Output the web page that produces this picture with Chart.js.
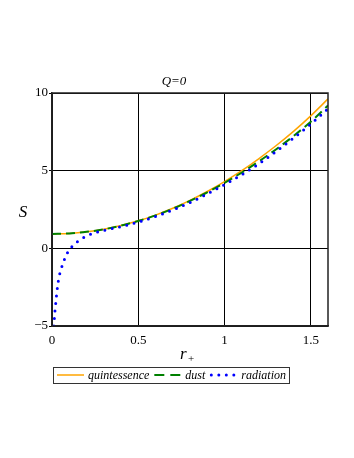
<!DOCTYPE html>
<html>
<head>
<meta charset="utf-8">
<script src="https://cdn.jsdelivr.net/npm/chart.js@4"></script>
<style>
  html, body { margin: 0; padding: 0; background: #fff; }
  canvas { display: block; }
</style>
</head>
<body>
<canvas id="chart" width="354" height="458"></canvas>
<script>
// data

const rPlus = [0, 0.1, 0.2, 0.3, 0.4, 0.5, 0.6, 0.7, 0.8, 0.9, 1.0, 1.1, 1.2, 1.3, 1.4, 1.5, 1.6];
const sQuint = [0.93, 0.96, 1.06, 1.23, 1.47, 1.77, 2.14, 2.58, 3.09, 3.66, 4.3, 5.0, 5.78, 6.62, 7.53, 8.53, 9.62];
const sDust = [0.93, 0.96, 1.06, 1.22, 1.46, 1.76, 2.12, 2.55, 3.05, 3.6, 4.22, 4.88, 5.6, 6.38, 7.23, 8.15, 9.2];

const rRad = [0.011, 0.014, 0.018, 0.023, 0.028, 0.034, 0.042, 0.055, 0.071, 0.091, 0.12, 0.16, 0.2, 0.25, 0.3,
              0.4, 0.5, 0.6, 0.7, 0.8, 0.9, 1.0, 1.1, 1.2, 1.3, 1.4, 1.5, 1.6];
const sRad = [-5, -4.47, -3.93, -3.4, -2.84, -2.31, -1.78, -1.26, -0.75, -0.26, 0.17, 0.53, 0.79, 1.0, 1.15,
              1.4, 1.69, 2.05, 2.47, 2.95, 3.5, 4.1, 4.74, 5.45, 6.25, 7.1, 8.0, 8.98];

const xTicks = [0, 0.5, 1, 1.5];
const yTicks = [-5, 0, 5, 10];

const seriesNames = ["quintessence", "dust", "radiation"];
const seriesColors = ["#FFA500", "#008000", "#0000FF"];

function toPoints(xs, ys) {
    return xs.map((x, i) => ({ x: x, y: ys[i] }));
}

const serif = '"Liberation Serif", "Times New Roman", serif';

// frame, title, axis labels and the boxed legend
const decor = {
    id: 'decor',
    afterDraw(chart) {
        const ctx = chart.ctx;
        const a = chart.chartArea;
        ctx.save();

        ctx.strokeStyle = '#222';
        ctx.lineWidth = 1.5;
        ctx.setLineDash([]);
        ctx.strokeRect(a.left, a.top, a.right - a.left, a.bottom - a.top);

        ctx.fillStyle = '#000';
        ctx.textBaseline = 'alphabetic';
        ctx.textAlign = 'center';
        ctx.font = 'italic 13px ' + serif;
        ctx.fillText('Q=0', 174, 85);

        ctx.font = 'italic 17px ' + serif;
        ctx.fillText('S', 23, 217);

        ctx.textAlign = 'left';
        ctx.font = 'italic 17px ' + serif;
        ctx.fillText('r', 180, 359);
        ctx.font = '11px ' + serif;
        ctx.fillText('+', 188, 362);

        // legend
        const top = 367, h = 16, left = 53;
        const midY = top + h / 2;
        ctx.font = 'italic 12px ' + serif;
        let x = left + 4;
        seriesNames.forEach((name, i) => {
            ctx.strokeStyle = seriesColors[i];
            if (i === 0) {
                ctx.lineWidth = 1.5;
                ctx.setLineDash([]);
                ctx.lineCap = 'butt';
            } else if (i === 1) {
                ctx.lineWidth = 2;
                ctx.setLineDash([10, 6]);
                ctx.lineCap = 'butt';
            } else {
                ctx.lineWidth = 3;
                ctx.setLineDash([0, 7.5]);
                ctx.lineCap = 'round';
            }
            ctx.beginPath();
            if (i === 2) {
                ctx.moveTo(x + 1, midY);
            } else {
                ctx.moveTo(x, midY);
            }
            ctx.lineTo(x + 27, midY);
            ctx.stroke();
            x += 31;
            ctx.fillStyle = '#000';
            ctx.fillText(name, x, midY + 4);
            x += ctx.measureText(name).width + 5;
        });
        ctx.setLineDash([]);
        ctx.lineCap = 'butt';
        ctx.strokeStyle = '#333';
        ctx.lineWidth = 1;
        ctx.strokeRect(left + 0.5, top + 0.5, x - left - 2, h);

        ctx.restore();
    }
};

let ctx = document.getElementById('chart').getContext('2d');
let chart = new Chart(ctx, {
    type: 'line',
    data: {
        datasets: [
            {
                label: seriesNames[0],
                data: toPoints(rPlus, sQuint),
                borderColor: seriesColors[0],
                borderWidth: 1.5,
                pointRadius: 0,
                cubicInterpolationMode: 'monotone',
                order: 3
            },
            {
                label: seriesNames[1],
                data: toPoints(rPlus, sDust),
                borderColor: seriesColors[1],
                borderWidth: 2,
                borderDash: [9, 5],
                pointRadius: 0,
                cubicInterpolationMode: 'monotone',
                order: 2
            },
            {
                label: seriesNames[2],
                data: toPoints(rRad, sRad),
                borderColor: seriesColors[2],
                borderWidth: 3,
                borderDash: [0, 7.5],
                borderCapStyle: 'round',
                pointRadius: 0,
                cubicInterpolationMode: 'monotone',
                order: 1
            }
        ]
    },
    options: {
        responsive: false,
        animation: false,
        devicePixelRatio: 1,
        layout: { padding: { left: 0, right: 26, top: 93, bottom: 0 } },
        plugins: {
            legend: { display: false },
            title: { display: false },
            tooltip: { enabled: false }
        },
        scales: {
            x: {
                type: 'linear',
                min: 0,
                max: 1.6,
                afterBuildTicks: (scale) => { scale.ticks = xTicks.map(v => ({ value: v })); },
                afterFit: (scale) => { scale.height = 132; },
                grid: { color: '#000', lineWidth: 1, drawTicks: false },
                border: { display: true, color: '#222', width: 1.5 },
                ticks: {
                    color: '#000',
                    padding: 7,
                    maxRotation: 0,
                    font: { family: serif, size: 13 },
                    callback: (v) => String(v)
                }
            },
            y: {
                type: 'linear',
                min: -5,
                max: 10,
                afterBuildTicks: (scale) => { scale.ticks = yTicks.map(v => ({ value: v })); },
                afterFit: (scale) => { scale.width = 52; },
                grid: { color: '#000', lineWidth: 1, drawTicks: true, tickLength: 3 },
                border: { display: true, color: '#222', width: 1.5 },
                ticks: {
                    color: '#000',
                    padding: 1,
                    font: { family: serif, size: 13 },
                    callback: (v) => (v < 0 ? '\u2212' + Math.abs(v) : String(v))
                }
            }
        }
    },
    plugins: [decor]
});
</script>
</body>
</html>
